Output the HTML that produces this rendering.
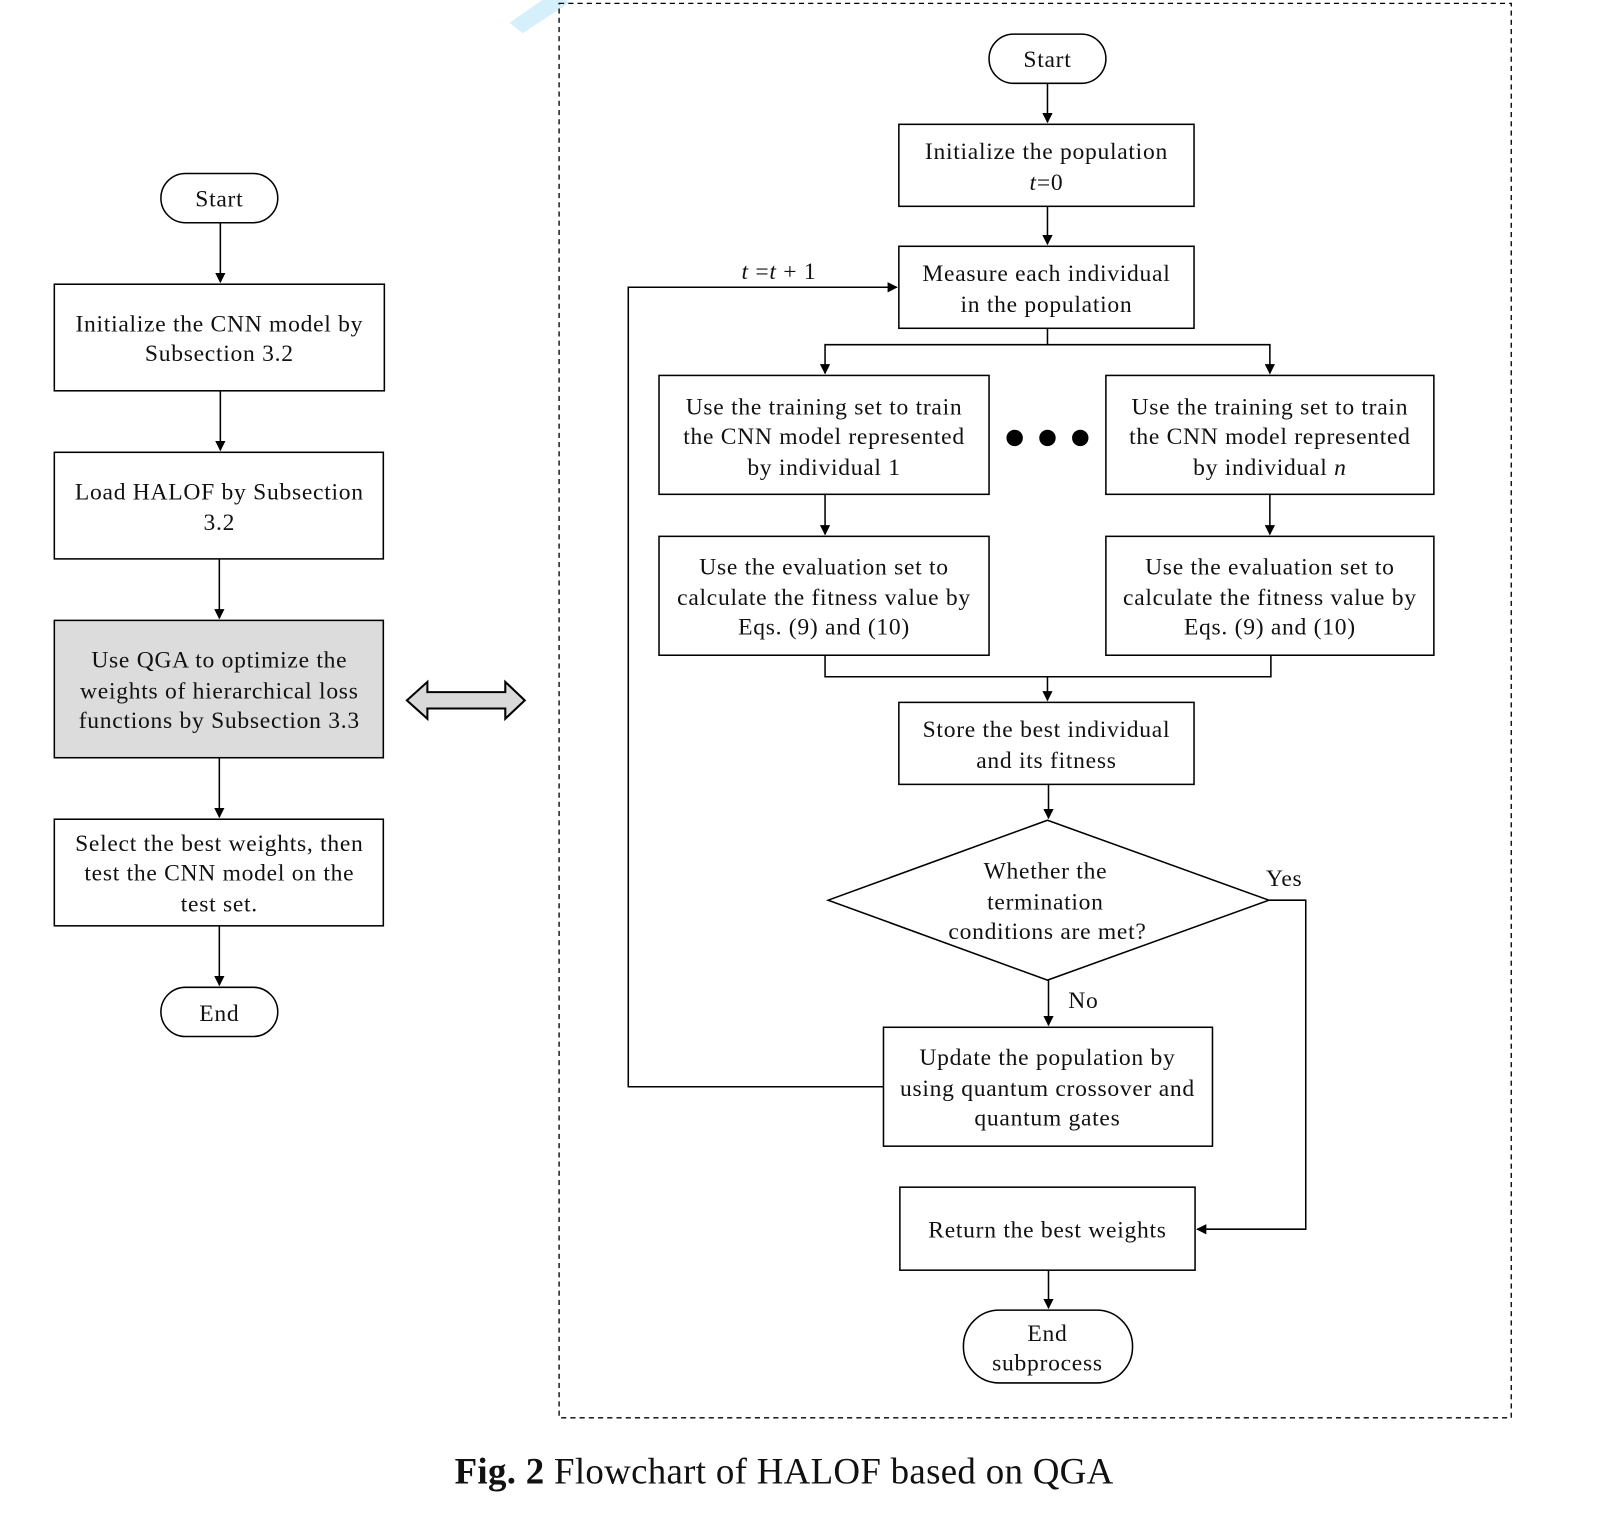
<!DOCTYPE html>
<html><head><meta charset="utf-8"><style>
html,body{margin:0;padding:0;background:#fff;}
svg{display:block;}
text{font-family:"Liberation Serif",serif;font-size:23px;letter-spacing:0.7px;fill:#111;}
</style></head><body>
<svg width="1604" height="1538" viewBox="0 0 1565 1500" xmlns="http://www.w3.org/2000/svg">
<defs><marker id="a" markerWidth="10" markerHeight="10" refX="9" refY="5" orient="auto" markerUnits="userSpaceOnUse"><path d="M0,0 L10,5 L0,10 z" fill="#000"/></marker></defs>
<polygon points="497,22 540,-8 556,2 510,32" fill="#d6f0fb"/>
<rect x="545.5" y="3" width="929" height="1380" fill="none" stroke="#000" stroke-width="1.3" stroke-dasharray="5,4"/>
<g fill="none" stroke="#000" stroke-width="1.5">
<rect x="157" y="169" width="114" height="48" rx="24" fill="#fff"/>
<rect x="53" y="277" width="322" height="104"/>
<rect x="53" y="441" width="321" height="104"/>
<rect x="53" y="605" width="321" height="134" fill="#dcdcdc"/>
<rect x="53" y="799" width="321" height="104"/>
<rect x="157" y="963" width="114" height="48" rx="24"/>
<g marker-end="url(#a)">
<path d="M215 217V275"/><path d="M215 381V439"/><path d="M214 545V603"/><path d="M214 739V797"/><path d="M214 903V961"/>
</g>
<polygon points="397,683 417,665 417,675 493,675 493,665 512,683 493,701 493,691 417,691 417,701" fill="#d9d9d9" stroke-width="2"/>
<rect x="965" y="33" width="114" height="48" rx="24"/>
<rect x="877" y="121" width="288" height="80"/>
<rect x="877" y="240" width="288" height="80"/>
<rect x="643" y="366" width="322" height="116"/>
<rect x="1079" y="366" width="320" height="116"/>
<rect x="643" y="523" width="322" height="116"/>
<rect x="1079" y="523" width="320" height="116"/>
<rect x="877" y="685" width="288" height="80"/>
<polygon points="1022,800 1238,878 1022,956 808,878"/>
<rect x="862" y="1002" width="321" height="116"/>
<rect x="878" y="1158" width="288" height="81"/>
<rect x="940" y="1278" width="165" height="71" rx="35"/>
<g marker-end="url(#a)">
<path d="M1022 81V119"/><path d="M1022 201V238"/><path d="M805 482V521"/><path d="M1239 482V521"/><path d="M1023 765V798"/><path d="M1023 956V1000"/><path d="M1023 1239V1276"/>
<path d="M1022 320V336H805V364"/>
<path d="M1022 336H1239V364"/>
<path d="M1022 660V683"/>
<path d="M862 1060H613V280H875"/>
<path d="M1238 878H1274V1199H1168"/>
</g>
<path d="M805 639V660H1240V639"/>
</g>
<circle cx="990" cy="427" r="8"/><circle cx="1022" cy="427" r="8"/><circle cx="1054" cy="427" r="8"/>
<g text-anchor="middle">
<text x="214" y="201">Start</text>
<text x="214" y="323">Initialize  the CNN model by</text>
<text x="214" y="352">Subsection 3.2</text>
<text x="214" y="487">Load HALOF by Subsection</text>
<text x="214" y="517">3.2</text>
<text x="214" y="651">Use QGA to optimize the</text>
<text x="214" y="681">weights of hierarchical loss</text>
<text x="214" y="710">functions by Subsection 3.3</text>
<text x="214" y="830">Select the best weights, then</text>
<text x="214" y="859">test the CNN model on the</text>
<text x="214" y="889">test set.</text>
<text x="214" y="996">End</text>
<text x="1022" y="65">Start</text>
<text x="1021" y="155">Initialize  the population</text>
<text x="1021" y="185" font-style="italic">t<tspan font-style="normal">=0</tspan></text>
<text x="1021" y="274">Measure each individual</text>
<text x="1021" y="304">in the population</text>
<text x="804" y="404">Use the training set to train</text>
<text x="804" y="433">the CNN model represented</text>
<text x="804" y="463">by individual  1</text>
<text x="1239" y="404">Use the training set to train</text>
<text x="1239" y="433">the CNN model represented</text>
<text x="1239" y="463">by individual  <tspan font-style="italic">n</tspan></text>
<text x="804" y="560">Use the evaluation set to</text>
<text x="804" y="590">calculate  the fitness value by</text>
<text x="804" y="619">Eqs. (9) and (10)</text>
<text x="1239" y="560">Use the evaluation set to</text>
<text x="1239" y="590">calculate  the fitness value by</text>
<text x="1239" y="619">Eqs. (9) and (10)</text>
<text x="1021" y="719">Store the best individual</text>
<text x="1021" y="749">and its fitness</text>
<text x="1020" y="857">Whether the</text>
<text x="1020" y="887">termination</text>
<text x="1022" y="916">conditions are met?</text>
<text x="1022" y="1039">Update the population by</text>
<text x="1022" y="1069">using quantum crossover and</text>
<text x="1022" y="1098">quantum gates</text>
<text x="1022" y="1207">Return the best weights</text>
<text x="1022" y="1308">End</text>
<text x="1022" y="1337">subprocess</text>
<text x="1253" y="864">Yes</text>
<text x="1057" y="983">No</text>
<text x="760" y="272"><tspan font-style="italic">t</tspan> =<tspan font-style="italic">t</tspan> + 1</text>
<text x="765" y="1447" style="font-size:36px;letter-spacing:0.3px"><tspan font-weight="bold">Fig. 2</tspan> Flowchart of HALOF based on QGA</text>
</g>
</svg>
</body></html>
